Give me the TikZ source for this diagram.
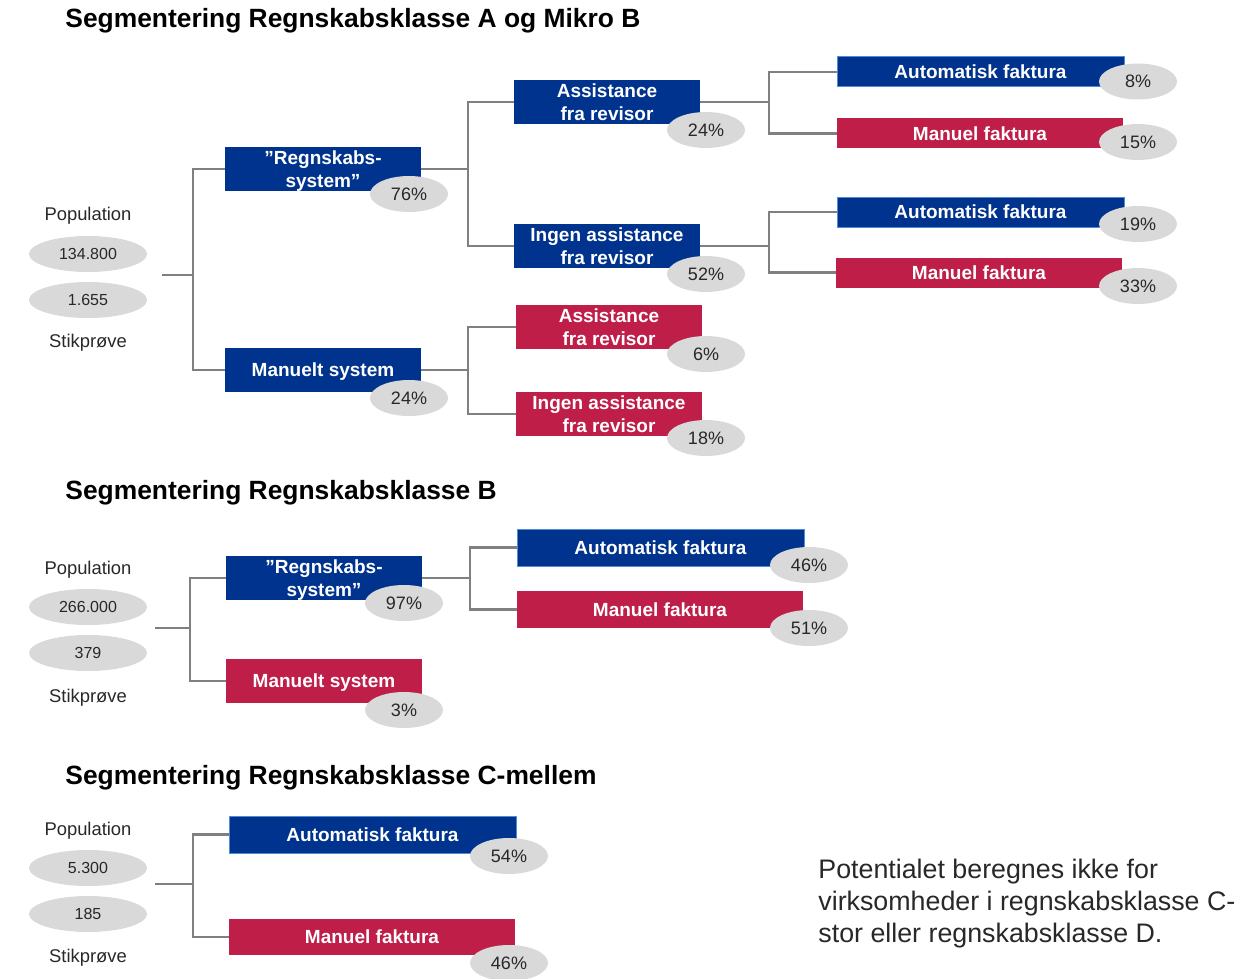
\documentclass[tikz,border=0pt]{standalone}
\usepackage{fontspec}
\setmainfont{Liberation Sans}
\usepackage{tikz}
\usetikzlibrary{shapes.geometric, positioning, calc}

\definecolor{segblue}{RGB}{0,51,141}
\definecolor{segedge}{RGB}{80,140,210}
\definecolor{segred}{RGB}{190,30,72}
\definecolor{segoval}{RGB}{217,217,217}
\definecolor{segline}{RGB}{128,128,128}
\definecolor{segtext}{RGB}{40,40,40}

\tikzset{
	bluebox/.style={fill=segblue, text=white, font=\bfseries\fontsize{9.5}{11.5}\selectfont, align=center, inner sep=0pt, text depth=0pt, minimum height=22pt},
	redbox/.style={bluebox, fill=segred},
	autobox/.style={bluebox, draw=segedge, line width=0.5pt},
	pct/.style={ellipse, fill=segoval, text=segtext, font=\fontsize{9}{11}\selectfont, inner sep=0pt, minimum width=39pt, minimum height=18pt},
	popoval/.style={pct, minimum width=59pt, font=\fontsize{8}{10}\selectfont},
	poplabel/.style={text=segtext, font=\fontsize{9.2}{11}\selectfont, text depth=0pt},
	heading/.style={anchor=base west, inner sep=0pt, font=\bfseries\fontsize{13.2}{16}\selectfont},
	conn/.style={draw=segline, line width=1.25pt},
}

\begin{document}
\begin{tikzpicture}[x=0.5pt, y=-0.5pt]
			\useasboundingbox (0, 0) rectangle (1253, 979);
			
			\node[heading] (titleA) at (65, 27.5) {Segmentering Regnskabsklasse A og Mikro B};
			\node[heading] (titleB) at (65, 499.5) {Segmentering Regnskabsklasse B};
			\node[heading] (titleC) at (65, 784.5) {Segmentering Regnskabsklasse C-mellem};
			
			\node[poplabel] (popA) at (88, 214) {Population};
			\node[popoval] (popnumA) at (88, 254) {134.800};
			\node[popoval] (sampnumA) at (88, 300) {1.655};
			\node[poplabel] (sampA) at (88, 341) {Stikprøve};
			
			\node[bluebox, minimum width=98pt] (regA) at (323, 169) {”Regnskabs-\\system”};
			\node[bluebox, minimum width=98pt] (manA) at (323, 370) {Manuelt system};
			\node[bluebox, minimum width=93pt] (asA) at (607, 102) {Assistance\\fra revisor};
			\node[bluebox, minimum width=93pt] (ingA) at (607, 246) {Ingen assistance\\fra revisor};
			\node[redbox, minimum width=93pt] (asmA) at (609, 327) {Assistance\\fra revisor};
			\node[redbox, minimum width=93pt] (ingmA) at (609, 414) {Ingen assistance\\fra revisor};
			\node[autobox, minimum width=143.5pt, minimum height=15pt] (autoA) at (980.5, 72) {Automatisk faktura};
			\node[redbox, minimum width=143pt, minimum height=15pt] (manuA) at (980, 133.5) {Manuel faktura};
			\node[autobox, minimum width=143.5pt, minimum height=15pt] (autoiA) at (980.5, 212) {Automatisk faktura};
			\node[redbox, minimum width=143pt, minimum height=15pt] (manuiA) at (979, 272.5) {Manuel faktura};
			
			\coordinate (rootA) at (162, 275);
			\coordinate (forkA) at (193, 275);
			\draw[conn] (rootA) -- (forkA);
			\draw[conn] (forkA) |- (regA);
			\draw[conn] (forkA) |- (manA);
			\draw[conn] (regA.east) -- ++(46.5, 0) coordinate (splitregA) |- (asA);
			\draw[conn] (splitregA) |- (ingA);
			\draw[conn] (manA.east) -- ++(46.5, 0) coordinate (splitmanA) |- (asmA);
			\draw[conn] (splitmanA) |- (ingmA);
			\draw[conn] (asA.east) -- ++(68.5, 0) coordinate (splitasA) |- (autoA);
			\draw[conn] (splitasA) |- (manuA);
			\draw[conn] (ingA.east) -- ++(68.5, 0) coordinate (splitingA) |- (autoiA);
			\draw[conn] (splitingA) |- (manuiA);
			
			\node[pct] (pregA) at (409, 194) {76\%};
			\node[pct] (pmanA) at (409, 398) {24\%};
			\node[pct] (pasA) at (706, 130) {24\%};
			\node[pct] (pingA) at (706, 274) {52\%};
			\node[pct] (pasmA) at (706, 354) {6\%};
			\node[pct] (pingmA) at (706, 438) {18\%};
			\node[pct] (pautoA) at (1138, 81.5) {8\%};
			\node[pct] (pmanuA) at (1138, 142) {15\%};
			\node[pct] (pautoiA) at (1138, 224) {19\%};
			\node[pct] (pmanuiA) at (1138, 286) {33\%};
			
			\node[poplabel] (popB) at (88, 568) {Population};
			\node[popoval] (popnumB) at (88, 607) {266.000};
			\node[popoval] (sampnumB) at (88, 653) {379};
			\node[poplabel] (sampB) at (88, 696) {Stikprøve};
			
			\node[bluebox, minimum width=98pt] (regB) at (324, 578) {”Regnskabs-\\system”};
			\node[redbox, minimum width=98pt] (manB) at (324, 681) {Manuelt system};
			\node[autobox, minimum width=143.5pt, minimum height=18.5pt] (autoB) at (660.5, 547.5) {Automatisk faktura};
			\node[redbox, minimum width=143pt, minimum height=18.5pt] (manuB) at (660, 609.5) {Manuel faktura};
			
			\coordinate (rootB) at (155, 628);
			\coordinate (forkB) at (190, 628);
			\draw[conn] (rootB) -- (forkB);
			\draw[conn] (forkB) |- (regB);
			\draw[conn] (forkB) |- (manB);
			\draw[conn] (regB.east) -- ++(47.5, 0) coordinate (splitregB) |- (autoB);
			\draw[conn] (splitregB) |- (manuB);
			
			\node[pct] (pregB) at (404, 603) {97\%};
			\node[pct] (pmanB) at (404, 710) {3\%};
			\node[pct] (pautoB) at (809, 565) {46\%};
			\node[pct] (pmanuB) at (809, 628) {51\%};
			
			\node[poplabel] (popC) at (88, 829) {Population};
			\node[popoval] (popnumC) at (88, 868) {5.300};
			\node[popoval] (sampnumC) at (88, 914) {185};
			\node[poplabel] (sampC) at (88, 956) {Stikprøve};
			
			\node[autobox, minimum width=143.5pt, minimum height=18.5pt] (autoC) at (372.5, 834.5) {Automatisk faktura};
			\node[redbox, minimum width=143pt, minimum height=18pt] (manuC) at (372, 937) {Manuel faktura};
			
			\coordinate (rootC) at (155, 884);
			\coordinate (forkC) at (193, 884);
			\draw[conn] (rootC) -- (forkC);
			\draw[conn] (forkC) |- (autoC);
			\draw[conn] (forkC) |- (manuC);
			
			\node[pct] (pautoC) at (509, 856) {54\%};
			\node[pct] (pmanuC) at (509, 963) {46\%};
			
			\node[anchor=west, align=left, inner sep=0pt, text=segtext, font=\fontsize{13.4}{16}\selectfont] (note) at (818, 904) {Potentialet beregnes ikke for\\virksomheder i regnskabsklasse C-\\stor eller regnskabsklasse D.};
		\end{tikzpicture}
\end{document}
